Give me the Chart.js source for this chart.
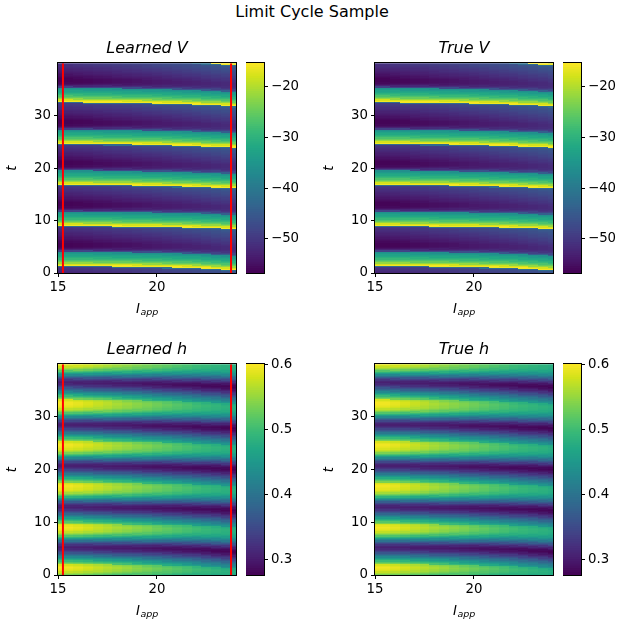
<!DOCTYPE html>
<html>
<head>
<meta charset="utf-8">
<title>Limit Cycle Sample</title>
<script src="https://cdn.jsdelivr.net/npm/chart.js@4.4.0/dist/chart.umd.min.js"></script>
<style>
  body { margin: 0; background: #fff; }
  #fig { position: relative; width: 624px; height: 626px; overflow: hidden; font-family: 'DejaVu Sans', sans-serif; }
  #fig canvas { position: absolute; }
  #suptitle { position: absolute; left: 0; top: 2px; width: 624px; text-align: center; font-size: 16px; line-height: 20px; color: #000; }
</style>
</head>
<body>
<div id="fig">
  <div id="suptitle">Limit Cycle Sample</div>
</div>
<script>
// values
const iappCols = [15, 15.5, 16, 16.5, 17, 17.5, 18, 18.5, 19, 19.5, 20,
    20.5, 21, 21.5, 22, 22.5, 23, 23.5, 24];
const colHalfWidth = 0.25;

// spike onset times (t) per I_app column
const spikePrev = [-6.3, -6.3, -6.3, -6.32, -6.35, -6.37, -6.4, -6.42, -6.45, -6.48, -6.5,
    -6.55, -6.6, -6.65, -6.7, -6.8, -6.9, -7.0, -7.1];
const spike1 = [1.3, 1.3, 1.3, 1.28, 1.25, 1.23, 1.2, 1.18, 1.15, 1.12, 1.1,
    1.05, 1.0, 0.95, 0.9, 0.8, 0.7, 0.6, 0.5];
const spike2 = [8.95, 8.95, 8.95, 8.92, 8.9, 8.88, 8.85, 8.82, 8.8, 8.78, 8.75,
    8.72, 8.7, 8.65, 8.6, 8.55, 8.5, 8.42, 8.35];
const spike3 = [16.8, 16.8, 16.8, 16.78, 16.75, 16.72, 16.7, 16.68, 16.65, 16.62, 16.6,
    16.55, 16.5, 16.45, 16.4, 16.35, 16.3, 16.22, 16.15];
const spike4 = [24.6, 24.6, 24.6, 24.58, 24.55, 24.52, 24.5, 24.48, 24.45, 24.42, 24.4,
    24.35, 24.3, 24.25, 24.2, 24.12, 24.05, 23.98, 23.9];
const spike5 = [32.6, 32.58, 32.55, 32.52, 32.5, 32.48, 32.45, 32.42, 32.4, 32.35, 32.3,
    32.25, 32.2, 32.15, 32.1, 32.02, 31.95, 31.85, 31.75];
const spike6 = [40.5, 40.5, 40.5, 40.45, 40.45, 40.4, 40.4, 40.35, 40.35, 40.3, 40.3,
    40.25, 40.2, 40.15, 40.1, 39.95, 39.85, 39.75, 39.6];

// V after a spike, every 0.25 of t
const phaseStep = 0.25;
const vByPhase = [-16, -18, -22, -25, -27, -29, -30.5, -32, -33, -34.5, -36,
  -49, -53, -55, -56, -56.5, -56.5, -56.5, -56, -55.5, -55, -54.5, -54,
  -53.5, -53, -52.5, -52, -51.5, -51, -50.5, -50, -49.5, -49];
const vRestShift = [0, 0.1, 0.3, 0.5, 0.8, 1.0, 1.3, 1.5, 1.8, 2.1, 2.4,
    2.7, 3.0, 3.3, 3.6, 3.9, 4.3, 4.6, 5.0];
const vUpstroke = -42;
const upstrokeSpan = 0.2;

// h after a spike (0 = trough, 1 = peak), every 0.25 of t
const hByPhase = [1.00, 0.98, 0.95, 0.80, 0.73, 0.66, 0.59, 0.51, 0.43, 0.35, 0.27,
  0.20, 0.13, 0.07, 0.03, 0.00, 0.02, 0.07, 0.14, 0.23, 0.33, 0.43, 0.53,
  0.63, 0.72, 0.80, 0.87, 0.92, 0.96, 0.98, 0.99, 1.00, 1.00];
const hPeak = [0.60, 0.595, 0.59, 0.583, 0.575, 0.568, 0.56, 0.553, 0.545, 0.538, 0.53,
    0.523, 0.515, 0.508, 0.50, 0.495, 0.49, 0.485, 0.48];
const hTrough = [0.305, 0.304, 0.303, 0.302, 0.30, 0.299, 0.297, 0.296, 0.294, 0.292, 0.29,
    0.289, 0.287, 0.286, 0.284, 0.283, 0.281, 0.28, 0.278];

const tRowStep = 0.05;
const xTicks = [15, 20];
const yTicks = [0, 10, 20, 30];
const vTicks = [-50, -40, -30, -20];
const hTicks = [0.3, 0.4, 0.5, 0.6];
const vRange = [-56.7, -15.4];
const hRange = [0.276, 0.6015];
const redLines = [15.25, 23.75];

const viridisStops = ['#440154', '#481a6c', '#472f7d', '#414487', '#39568c', '#31688e',
  '#2a788e', '#23888e', '#1f988b', '#22a884', '#35b779', '#54c568', '#7ad151',
  '#a5db36', '#d2e21b', '#fde725'];

Chart.defaults.font.family = "'DejaVu Sans', sans-serif";
Chart.defaults.font.size = 13.3;
Chart.defaults.color = '#000';

function hexRgb(h) {
    return [1, 3, 5].map(i => parseInt(h.substr(i, 2), 16));
}
const viridisRgb = viridisStops.map(hexRgb);

function viridis(f) {
    f = Math.max(0, Math.min(1, f));
    const p = f * (viridisRgb.length - 1);
    const i = Math.min(Math.floor(p), viridisRgb.length - 2);
    const u = p - i;
    const a = viridisRgb[i], b = viridisRgb[i + 1];
    const c = a.map((v, k) => Math.round(v + (b[k] - v) * u));
    return 'rgb(' + c.join(',') + ')';
}

const spikeBands = [spikePrev, spike1, spike2, spike3, spike4, spike5, spike6];

function spikeAround(ci, t) {
    let last = spikeBands[0][ci], next = Infinity;
    for (const band of spikeBands) {
        if (band[ci] <= t) last = band[ci];
        else { next = band[ci]; break; }
    }
    return { last, next };
}

function phaseIndex(t, last) {
    return Math.min(Math.floor((t - last) / phaseStep), vByPhase.length - 1);
}

function vAt(ci, t) {
    const { last, next } = spikeAround(ci, t);
    if (next - t < upstrokeSpan) return vUpstroke;
    const k = phaseIndex(t, last);
    return vByPhase[k] + (k >= 11 ? vRestShift[ci] : 0);
}

function hAt(ci, t) {
    const { last } = spikeAround(ci, t);
    const k = phaseIndex(t, last);
    return hTrough[ci] + hByPhase[k] * (hPeak[ci] - hTrough[ci]);
}

function buildCells(valueAt) {
    const cells = [];
    const nRows = Math.round(40 / tRowStep);
    iappCols.forEach((iv, ci) => {
        const i0 = Math.max(15, iv - colHalfWidth), i1 = Math.min(24, iv + colHalfWidth);
        for (let r = 0; r < nRows; r++) {
            const t0 = r * tRowStep;
            cells.push({ i0, i1, t0, t1: t0 + tRowStep, v: valueAt(ci, t0 + tRowStep / 2) });
        }
    });
    return cells;
}

function heatmapPlugin(cells, range) {
    return {
        id: 'heatmap',
        beforeDatasetsDraw(chart) {
            const { ctx, chartArea: a, scales: { x, y } } = chart;
            ctx.save();
            ctx.beginPath();
            ctx.rect(a.left, a.top, a.width, a.height);
            ctx.clip();
            cells.forEach(c => {
                const x0 = Math.round(x.getPixelForValue(c.i0));
                const x1 = Math.round(x.getPixelForValue(c.i1));
                const y0 = Math.round(y.getPixelForValue(c.t0));
                const y1 = Math.round(y.getPixelForValue(c.t1));
                if (y0 === y1 || x0 === x1) return;
                ctx.fillStyle = viridis((c.v - range[0]) / (range[1] - range[0]));
                ctx.fillRect(x0, y1, x1 - x0, y0 - y1);
            });
            ctx.restore();
        }
    };
}

const framePlugin = {
    id: 'frame',
    afterDraw(chart) {
        const { ctx, chartArea: a } = chart;
        ctx.save();
        ctx.strokeStyle = '#000';
        ctx.lineWidth = 1;
        ctx.strokeRect(Math.round(a.left) - 0.5, Math.round(a.top) - 0.5,
            Math.round(a.right) - Math.round(a.left) + 1, Math.round(a.bottom) - Math.round(a.top) + 1);
        ctx.restore();
    }
};

const iappLabelPlugin = {
    id: 'iappLabel',
    afterDraw(chart) {
        const { ctx, chartArea: a } = chart;
        const cx = (a.left + a.right) / 2;
        const base = a.bottom + 39.5;
        const big = "italic 13.3px 'DejaVu Sans'";
        const small = "italic 9.5px 'DejaVu Sans'";
        ctx.save();
        ctx.fillStyle = '#000';
        ctx.textBaseline = 'alphabetic';
        ctx.textAlign = 'left';
        ctx.font = big;
        const wI = ctx.measureText('I').width;
        ctx.font = small;
        const wA = ctx.measureText('app').width;
        const x0 = cx - (wI + wA) / 2;
        ctx.font = big;
        ctx.fillText('I', x0, base);
        ctx.font = small;
        ctx.fillText('app', x0 + wI + 0.5, base + 2.5);
        ctx.restore();
    }
};

function makeCanvas(left, top, w, h) {
    const c = document.createElement('canvas');
    c.width = w;
    c.height = h;
    c.style.left = left + 'px';
    c.style.top = top + 'px';
    c.style.width = w + 'px';
    c.style.height = h + 'px';
    document.getElementById('fig').appendChild(c);
    return c;
}

const tickGrid = { drawOnChartArea: false, drawTicks: true, tickLength: 4, color: '#000', lineWidth: 1 };

function heatPanel(area, title, cells, range, withLines) {
    const canvas = makeCanvas(area.L - 58, area.T - 34, area.R - area.L + 64, area.B - area.T + 84);
    const datasets = withLines ? redLines.map(xv => ({
        data: [{ x: xv, y: 0 }, { x: xv, y: 40 }],
        showLine: true,
        borderColor: '#ff0000',
        borderWidth: 2,
        pointRadius: 0,
        fill: false
    })) : [];
    new Chart(canvas, {
        type: 'scatter',
        data: { datasets },
        options: {
            responsive: false,
            animation: false,
            events: [],
            layout: { padding: { left: 0, right: 6, top: 0, bottom: 0 } },
            plugins: {
                legend: { display: false },
                tooltip: { enabled: false },
                title: {
                    display: true,
                    text: title,
                    fullSize: false,
                    color: '#000',
                    font: { size: 16, style: 'italic', weight: 'normal' },
                    padding: { top: 10, bottom: 5 }
                }
            },
            scales: {
                x: {
                    type: 'linear', min: 15, max: 24,
                    afterBuildTicks: s => { s.ticks = xTicks.map(v => ({ value: v })); },
                    afterFit: s => { s.height = 50; },
                    ticks: { padding: 3, maxRotation: 0 },
                    grid: tickGrid,
                    border: { display: false }
                },
                y: {
                    type: 'linear', min: 0, max: 40,
                    afterBuildTicks: s => { s.ticks = yTicks.map(v => ({ value: v })); },
                    afterFit: s => { s.width = 58; },
                    ticks: { padding: 3 },
                    grid: tickGrid,
                    border: { display: false },
                    title: { display: true, text: 't', font: { style: 'italic', size: 13.3 }, padding: { top: 5, bottom: 0 } }
                }
            }
        },
        plugins: [heatmapPlugin(cells, range), framePlugin, iappLabelPlugin]
    });
}

function colorbar(left, area, range, ticks, fmt) {
    const canvas = makeCanvas(left, area.T - 12, 68, area.B - area.T + 24);
    const n = 96;
    const datasets = [];
    for (let k = 0; k < n; k++) {
        const hi = range[0] + (k + 1) * (range[1] - range[0]) / n;
        const col = viridis((k + 0.5) / n);
        datasets.push({
            data: [[range[0], hi]],
            backgroundColor: col,
            borderWidth: 0,
            barPercentage: 1,
            categoryPercentage: 1,
            grouped: false
        });
    }
    new Chart(canvas, {
        type: 'bar',
        data: { labels: [''], datasets },
        options: {
            responsive: false,
            animation: false,
            events: [],
            layout: { padding: { left: 0, right: 0, top: 12, bottom: 12 } },
            plugins: { legend: { display: false }, tooltip: { enabled: false } },
            scales: {
                x: { display: false },
                y: {
                    type: 'linear', position: 'right', min: range[0], max: range[1],
                    afterBuildTicks: s => { s.ticks = ticks.map(v => ({ value: v })); },
                    afterFit: s => { s.width = 50; },
                    ticks: { padding: 3, callback: fmt },
                    grid: tickGrid,
                    border: { display: false }
                }
            }
        },
        plugins: [framePlugin]
    });
}

const vCells = buildCells(vAt);
const hCells = buildCells(hAt);

const fmtV = v => (v < 0 ? '\u2212' : '') + Math.abs(v);
const fmtH = v => Number(v).toFixed(1);

const areaTL = { L: 58, R: 236, T: 63, B: 273 };
const areaTR = { L: 375, R: 553, T: 63, B: 273 };
const areaBL = { L: 58, R: 236, T: 364, B: 575 };
const areaBR = { L: 375, R: 553, T: 364, B: 575 };

heatPanel(areaTL, 'Learned V', vCells, vRange, true);
heatPanel(areaTR, 'True V', vCells, vRange, false);
heatPanel(areaBL, 'Learned h', hCells, hRange, true);
heatPanel(areaBR, 'True h', hCells, hRange, false);

colorbar(246, areaTL, vRange, vTicks, fmtV);
colorbar(563, areaTR, vRange, vTicks, fmtV);
colorbar(246, areaBL, hRange, hTicks, fmtH);
colorbar(563, areaBR, hRange, hTicks, fmtH);
</script>
</body>
</html>
